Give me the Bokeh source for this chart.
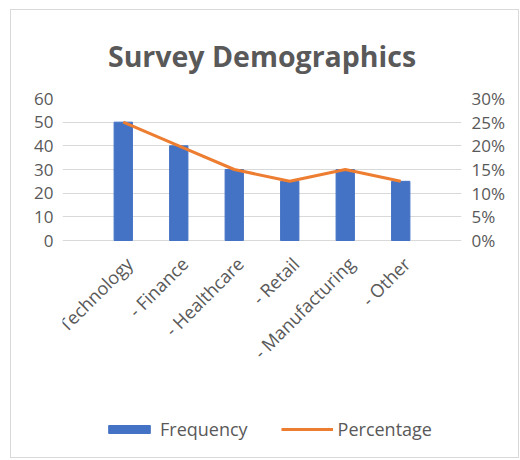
from math import pi
from bokeh.plotting import figure
from bokeh.models import (ColumnDataSource, LinearAxis, Range1d, FixedTicker,
                          NumeralTickFormatter, Legend, LegendItem, FactorRange)
from bokeh.core.properties import value
from bokeh.embed import file_html
from bokeh.resources import INLINE

categories = ["- Technology", "- Finance", "- Healthcare", "- Retail", "- Manufacturing", "- Other"]
frequency = [50, 40, 30, 25, 30, 25]
percentage = [0.25, 0.20, 0.15, 0.125, 0.15, 0.125]
left_ticks = [0, 10, 20, 30, 40, 50, 60]
right_ticks = [0, 0.05, 0.10, 0.15, 0.20, 0.25, 0.30]

FONT = "Open Sans"
TXT = "#595959"

# layout: value axis 0..60 spans 142 px; frame continues 219 px below zero
PX_PER_UNIT = 142 / 60
y_start = -219 / PX_PER_UNIT

src = ColumnDataSource(dict(cat=categories, freq=frequency, pct=percentage))

p = figure(x_range=FactorRange(*categories, range_padding=0.595, range_padding_units="absolute"),
           y_range=Range1d(y_start, 60),
           width=509, height=449, x_axis_location=None,
           output_backend="svg", toolbar_location=None,
           min_border_left=51, min_border_right=59, min_border_top=88, min_border_bottom=0,
           margin=(9, 0, 0, 10), title="Survey Demographics")
p.styles = {"border": "1px solid #d9d9d9"}
p.outline_line_color = None
p.extra_y_ranges = {"pct": Range1d(y_start / 200, 0.30)}

p.title.align = "center"
p.title.text_font = FONT
p.title.text_font_size = "28.5px"
p.title.text_font_style = "bold"
p.title.text_color = TXT
p.title.offset = 6
p.title.standoff = 48

bars = p.vbar(x="cat", top="freq", width=0.33, source=src, color="#4472C4")
line = p.line(x="cat", y="pct", source=src, y_range_name="pct", color="#ED7D31", line_width=3)

# category labels, rotated like the reference's axis labels
p.text(x="cat", y=-20 / PX_PER_UNIT, text="cat", source=src, angle=pi / 4, x_offset=6,
       text_align="right", text_baseline="middle", text_font=value(FONT),
       text_font_size="18px", text_color=TXT)

yax = p.yaxis[0]
yax.ticker = FixedTicker(ticks=left_ticks)
ax2 = LinearAxis(y_range_name="pct", ticker=FixedTicker(ticks=right_ticks),
                 formatter=NumeralTickFormatter(format="0%"))
p.add_layout(ax2, "right")

for ax, so in [(yax, 3), (ax2, 4)]:
    ax.axis_line_color = None
    ax.major_tick_line_color = None
    ax.minor_tick_line_color = None
    ax.major_label_text_font = FONT
    ax.major_label_text_font_size = "17px"
    ax.major_label_text_color = TXT
    ax.major_label_standoff = so

p.xgrid.grid_line_color = None
p.ygrid.grid_line_color = "#d9d9d9"
p.ygrid.ticker = FixedTicker(ticks=left_ticks)

legend = Legend(items=[LegendItem(label="Frequency", renderers=[bars]),
                       LegendItem(label="Percentage", renderers=[line])],
                orientation="horizontal", location=(41, 18),
                glyph_width=52, glyph_height=10, label_standoff=5, spacing=33,
                label_text_font=FONT, label_text_font_size="18px", label_text_color=TXT,
                border_line_color=None, background_fill_alpha=0, margin=0, padding=0)
p.add_layout(legend, "center")

open("out.html", "w").write(file_html(p, INLINE))
